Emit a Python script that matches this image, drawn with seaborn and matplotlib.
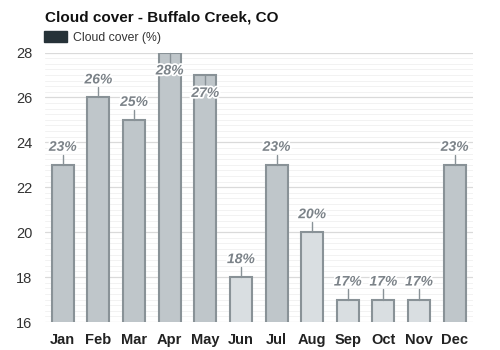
import matplotlib
matplotlib.use("Agg")
import matplotlib.pyplot as plt
import matplotlib.patheffects as pe
from matplotlib.patches import Patch
from matplotlib.ticker import MultipleLocator
import seaborn as sns
import pandas as pd

months = ["Jan", "Feb", "Mar", "Apr", "May", "Jun", "Jul", "Aug", "Sep", "Oct", "Nov", "Dec"]
cloud_cover = [23, 26, 25, 28, 27, 18, 23, 20, 17, 17, 17, 23]
value_labels = ["23%", "26%", "25%", "28%", "27%", "18%", "23%", "20%", "17%", "17%", "17%", "23%"]

dark_fill = "#bfc6ca"
light_fill = "#d9dee1"
edge = "#899297"
label_color = "#7b8288"

sns.set_theme(style="white")
plt.rcParams["font.family"] = ["Liberation Sans", "DejaVu Sans"]

df = pd.DataFrame({"month": months, "cover": cloud_cover})
palette = {m: (dark_fill if v > 20 else light_fill) for m, v in zip(months, cloud_cover)}

fig = plt.figure(figsize=(5, 3.5), dpi=100)
ax = fig.add_axes([0.09, 0.08, 0.855, 0.77])

sns.barplot(data=df, x="month", y="cover", hue="month", palette=palette,
            legend=False, width=0.62, edgecolor=edge, linewidth=1.5,
            saturation=1, ax=ax, zorder=3)

ax.set_ylim(16, 28)
ax.set_xlim(-0.5, 11.5)
ax.yaxis.set_major_locator(MultipleLocator(2))
ax.yaxis.set_minor_locator(MultipleLocator(0.25))
ax.grid(axis="y", which="major", color="#dadada", linewidth=0.9, zorder=0)
ax.grid(axis="y", which="minor", color="#f2f2f2", linewidth=0.7, zorder=0)
ax.set_axisbelow(True)
for s in ax.spines.values():
    s.set_visible(False)
ax.set_xlabel("")
ax.set_ylabel("")
ax.tick_params(axis="y", labelsize=10.5, colors="#333333", length=0, pad=9)
ax.tick_params(axis="x", labelsize=10.5, colors="#222222", length=0, pad=8)
for t in ax.get_xticklabels():
    t.set_fontweight("bold")

for i, (v, lab) in enumerate(zip(cloud_cover, value_labels)):
    if v >= 27:
        ax.plot([i, i], [v, v - 0.45], color=edge, linewidth=1, zorder=4, clip_on=False)
        ty = v - 0.8
    else:
        ax.plot([i, i], [v, v + 0.45], color=edge, linewidth=1, zorder=4)
        ty = v + 0.8
    ax.text(i, ty, lab, ha="center", va="center", fontsize=10, fontweight="bold",
            fontstyle="italic", color=label_color, zorder=5,
            path_effects=[pe.withStroke(linewidth=2.5, foreground="white")])

fig.text(0.09, 0.95, "Cloud cover - Buffalo Creek, CO", fontsize=11,
         fontweight="bold", color="#111111", va="center")
fig.legend(handles=[Patch(facecolor="#263238", edgecolor="#263238", label="Cloud cover (%)")],
           loc="center left", bbox_to_anchor=(0.066, 0.893), frameon=False,
           fontsize=8.8, handlelength=1.9, handleheight=0.95, handletextpad=0.5,
           labelcolor="#333333")

fig.savefig("out.png", dpi=100)
